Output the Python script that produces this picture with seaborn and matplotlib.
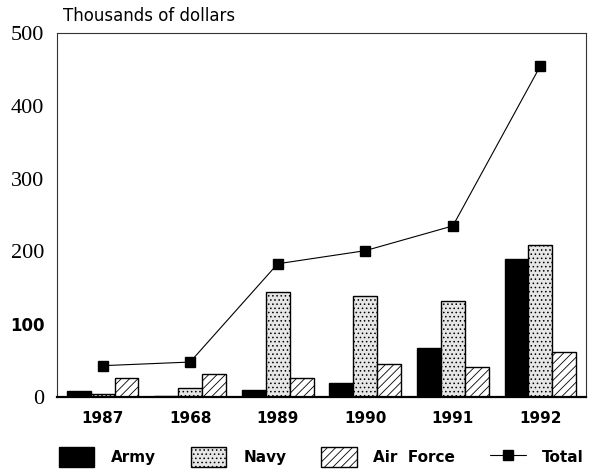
import pandas as pd
import matplotlib.pyplot as plt
import matplotlib.patches as mpatches
import matplotlib.lines as mlines
import seaborn as sns

# values (thousands of dollars)
years = ['1987', '1968', '1989', '1990', '1991', '1992']
army = [8, 2, 10, 19, 67, 190]
navy = [4, 12, 144, 139, 132, 209]
air_force = [26, 31, 26, 45, 41, 62]
total = [43, 48, 183, 201, 235, 455]
services = ['Army', 'Navy', 'Air Force']

df = pd.DataFrame({
    'year': years * 3,
    'service': [s for s in services for _ in years],
    'value': army + navy + air_force,
})

sns.set_style('white')
plt.rcParams['font.family'] = ['DejaVu Sans']
plt.rcParams['text.color'] = 'black'
plt.rcParams['xtick.color'] = 'black'
plt.rcParams['ytick.color'] = 'black'
plt.rcParams['hatch.linewidth'] = 0.6

navy_fc = '#e6e6e6'
navy_hatch = '....'

fig = plt.figure(figsize=(5.9, 4.76), dpi=100)
ax = fig.add_axes([0.0966, 0.166, 0.8966, 0.7647])

sns.barplot(data=df, x='year', y='value', hue='service', hue_order=services,
            order=years, width=0.82, ax=ax, legend=False, saturation=1,
            palette=['black', navy_fc, 'white'], edgecolor='black', linewidth=1)

styles = {'Army': ('black', ''), 'Navy': (navy_fc, navy_hatch), 'Air Force': ('white', '////')}
for cont, svc in zip(ax.containers, services):
    fc, hatch = styles[svc]
    for bar in cont:
        bar.set_facecolor(fc)
        bar.set_hatch(hatch)
        bar.set_edgecolor('black')

ax.plot(range(len(years)), total, color='black', lw=0.8, marker='s',
        markersize=7, markerfacecolor='black', zorder=5)

ax.set_xlim(-0.52, 5.52)
ax.set_ylim(0, 500)
ax.set_yticks([0, 100, 200, 300, 400, 500])
ax.set_yticklabels(['0', '100', '200', '300', '400', '500'])
for lab in ax.get_yticklabels():
    if lab.get_text() == '100':
        lab.set_fontfamily('DejaVu Sans')
        lab.set_fontweight('bold')
        lab.set_fontsize(12)
    else:
        lab.set_fontfamily('Liberation Serif')
        lab.set_fontsize(16)
ax.tick_params(axis='y', length=0, pad=9)
ax.tick_params(axis='x', length=0, pad=10)
for lab in ax.get_xticklabels():
    lab.set_fontweight('bold')
    lab.set_fontsize(11)
ax.set_xlabel('')
ax.set_ylabel('')

for side in ['left', 'right', 'top']:
    ax.spines[side].set_linewidth(0.8)
    ax.spines[side].set_color('#333333')
ax.spines['bottom'].set_linewidth(1.6)
ax.spines['bottom'].set_color('black')

fig.text(0.107, 0.948, 'Thousands of dollars', fontsize=12, ha='left', va='bottom')

handles = [
    mpatches.Patch(facecolor='black', edgecolor='black'),
    mpatches.Patch(facecolor=navy_fc, edgecolor='black', hatch=navy_hatch),
    mpatches.Patch(facecolor='white', edgecolor='black', hatch='////'),
    mlines.Line2D([], [], color='black', lw=0.8, marker='s', markersize=7),
]
leg = fig.legend(handles, ['Army', 'Navy', 'Air  Force', 'Total'], loc='lower center',
                 bbox_to_anchor=(0.545, -0.01), ncol=4, frameon=False,
                 prop={'weight': 'bold', 'size': 11}, handlelength=2.3,
                 handleheight=1.6, columnspacing=2.3, handletextpad=1.1)

fig.savefig('out.png', dpi=100)
